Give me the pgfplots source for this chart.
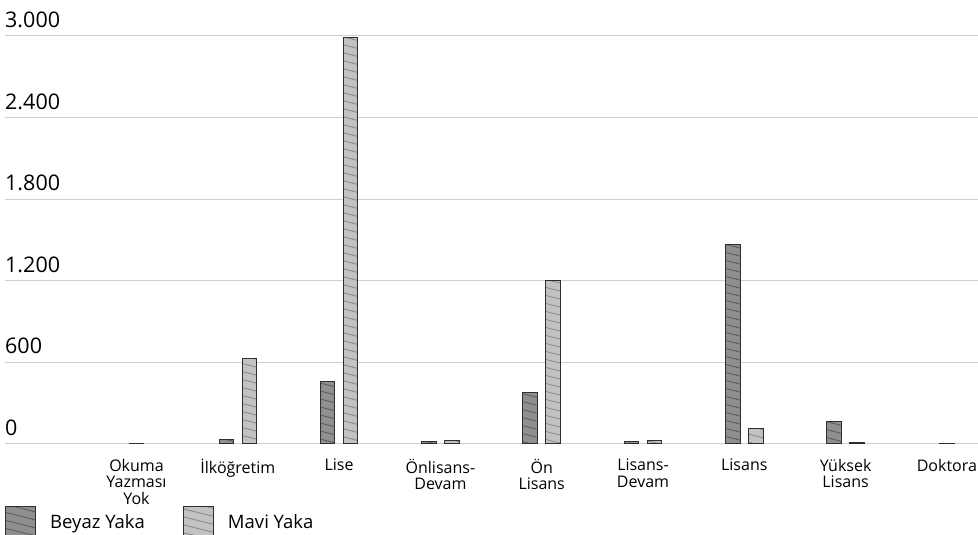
\documentclass[border=0pt]{standalone}
\usepackage{pgfplots}
\pgfplotsset{compat=1.18}
\usepackage{fontspec}
\setmainfont{Open Sans}
\usetikzlibrary{patterns}
\pgfdeclarepatternformonly{shallow}{\pgfqpoint{-1pt}{-1pt}}{\pgfqpoint{33pt}{9pt}}{\pgfqpoint{32pt}{8pt}}{%
  \pgfsetlinewidth{0.9pt}%
  \pgfpathmoveto{\pgfqpoint{-4pt}{9pt}}%
  \pgfpathlineto{\pgfqpoint{36pt}{-1pt}}%
  \pgfusepath{stroke}}
\definecolor{beyazfill}{HTML}{8F8F8F}
\definecolor{beyazline}{HTML}{606060}
\definecolor{mavifill}{HTML}{C2C2C2}
\definecolor{maviline}{HTML}{8E8E8E}
\definecolor{edge}{HTML}{2E2E2E}
\definecolor{gridc}{HTML}{CFCFCF}
\begin{document}
\begin{tikzpicture}
\path[use as bounding box] (-5pt,-91pt) rectangle (973pt,444pt);
\begin{axis}[
  at={(0pt,0pt)}, anchor=south west,
  scale only axis, width=973pt, height=408pt,
  xmin=-1.298, xmax=8.307, ymin=0, ymax=3000,
  axis line style={draw=none},
  major tick length=0pt,
  ytick={0,600,1200,1800,2400,3000},
  ymajorgrids, grid style={draw=gridc, line width=1pt},
  yticklabel style={anchor=south west, inner sep=0pt, xshift=0pt, yshift=8pt, font=\fontsize{21.5}{21.5}\selectfont},
  /pgf/number format/.cd, 1000 sep={.}, assume math mode=true, /pgfplots/.cd,
  xtick={0,1,2,3,4,5,6,7,8},
  xticklabels={{Okuma\\Yazması\\Yok},İlköğretim,Lise,{Önlisans-\\Devam},{Ön\\Lisans},{Lisans-\\Devam},Lisans,{Yüksek\\Lisans},Doktora},
  xticklabel style={align=center, anchor=north, inner sep=0pt, yshift=-15pt, font=\fontsize{16}{16.5}\selectfont},
  ybar, bar width=14.5pt,
  legend columns=2,
  legend style={at={(0,-0.19)}, anchor=west, draw=none, fill=none, inner sep=0pt,
    font=\fontsize{18.5}{18.5}\selectfont,
    /tikz/every even column/.append style={column sep=36pt}},
  legend image code/.code={\draw[#1] (0pt,-14pt) rectangle (30pt,16pt);},
  legend cell align=left,
]
\addplot[bar shift=-11.5pt, draw=edge, line width=1pt, fill=beyazfill,
  postaction={pattern=shallow, pattern color=beyazline}]
  coordinates {(1,35) (2,460) (3,17) (4,375) (5,17) (6,1470) (7,162)};
\addlegendentry{\hspace{12pt}Beyaz Yaka}
\addplot[bar shift=11.5pt, draw=edge, line width=1pt, fill=mavifill,
  postaction={pattern=shallow, pattern color=maviline}]
  coordinates {(1,630) (2,2990) (3,24) (4,1205) (5,24) (6,115) (7,8)};
\addlegendentry{\hspace{12pt}Mavi Yaka}
\addplot[bar shift=0pt, draw=edge, line width=1pt, fill=beyazfill, forget plot]
  coordinates {(0,6) (8,6)};
\end{axis}
\end{tikzpicture}
\end{document}
